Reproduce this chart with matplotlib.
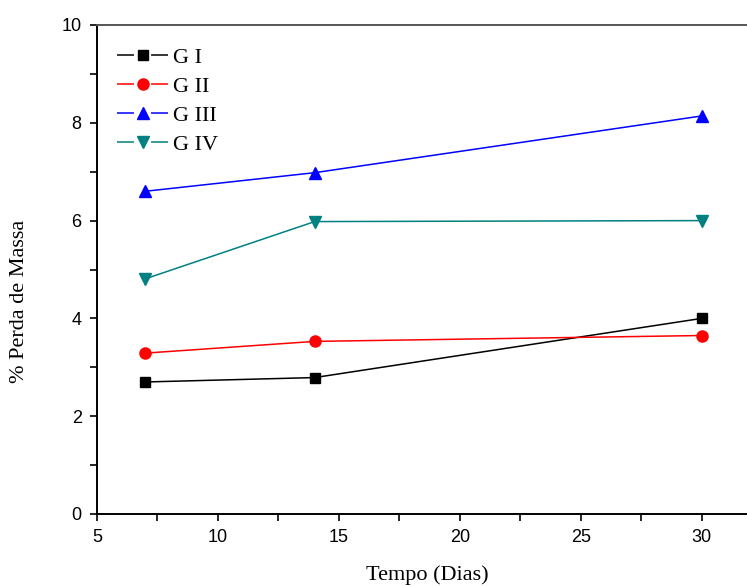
import matplotlib.pyplot as plt
from matplotlib.lines import Line2D
from matplotlib.ticker import MultipleLocator

# days of measurement
dias = [7, 14, 30]

# mass loss (%) for each group
g1 = [2.70, 2.79, 4.00]
g2 = [3.29, 3.53, 3.65]
g3 = [6.60, 6.98, 8.14]
g4 = [4.81, 5.98, 6.00]

labels = ['G I', 'G II', 'G III', 'G IV']
colors = ['black', 'red', 'blue', '#008080']
markers = ['s', 'o', '^', 'v']
sizes = [7, 8, 8.5, 8.5]

serif = ['Liberation Serif', 'DejaVu Serif']
sans = ['Liberation Sans', 'DejaVu Sans']


def draw_plot():
    """
    Draw the mass loss curves
    """
    fig = plt.figure(figsize=(7.47, 5.86), dpi=100)
    # the axes runs past the right edge of the figure
    ax = fig.add_axes([97 / 747, 1 - 514 / 586, 670 / 747, 489 / 586])

    handles = []
    for y, lab, c, m, ms in zip([g1, g2, g3, g4], labels, colors,
                                markers, sizes):
        ax.plot(dias, y, color=c, marker=m, markersize=ms, lw=1.1)
        # legend key with a gap in the line around the marker
        handles.append(Line2D([], [], color=c, marker=m, markersize=ms,
                              lw=1.1, linestyle=(0, (11.1, 11.2))))

    ax.set_xlim(5, 32.7)
    ax.set_ylim(0, 10)
    ax.xaxis.set_major_locator(MultipleLocator(5))
    ax.xaxis.set_minor_locator(MultipleLocator(2.5))
    ax.yaxis.set_major_locator(MultipleLocator(2))
    ax.yaxis.set_minor_locator(MultipleLocator(1))
    ax.tick_params(which='both', direction='out', length=5, width=1.2)
    ax.tick_params(axis='x', pad=6)
    ax.tick_params(axis='y', pad=6)
    for lab in ax.get_xticklabels() + ax.get_yticklabels():
        lab.set_family(sans)
        lab.set_fontsize(13)

    ax.spines['right'].set_visible(False)
    ax.spines['top'].set_color('#555555')
    for s in ['left', 'bottom', 'top']:
        ax.spines[s].set_linewidth(1.4)

    ax.set_xlabel('Tempo (Dias)', family=serif, fontsize=16, labelpad=14)
    ax.xaxis.label.set_x(0.4925)
    ax.set_ylabel('% Perda de Massa', family=serif, fontsize=16)
    ax.yaxis.set_label_coords(-0.101, 0.435)

    ax.legend(handles, labels, loc='upper left', frameon=False,
              prop={'family': serif, 'size': 16}, handlelength=2.3,
              labelspacing=0.38, handletextpad=0.22,
              bbox_to_anchor=(0.0, 0.995))

    fig.savefig('out.png', dpi=100)


def main():
    draw_plot()


if __name__ == "__main__":
    main()
